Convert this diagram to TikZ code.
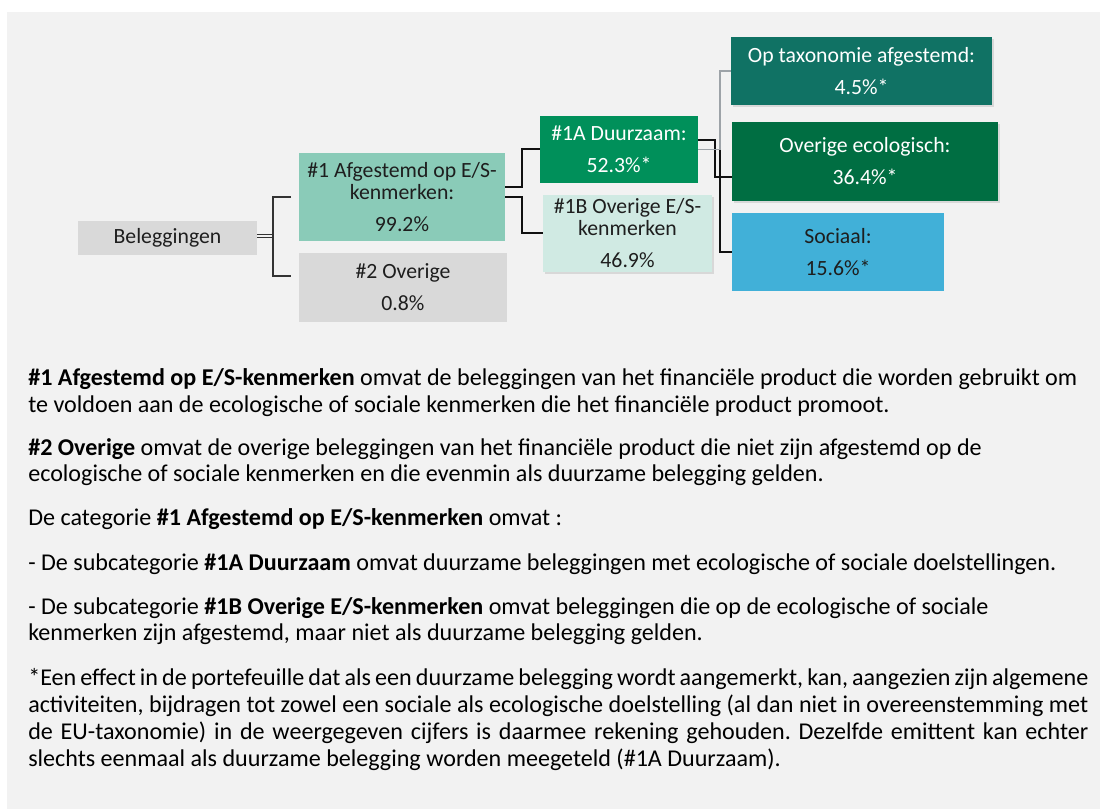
\documentclass[tikz,border=0pt]{standalone}
\usepackage{fontspec}
\setmainfont{Carlito}
\usetikzlibrary{shadows}
\definecolor{bg}{HTML}{F2F2F2}
\definecolor{cgray}{HTML}{D9D9D9}
\definecolor{cone}{HTML}{8ACBB8}
\definecolor{conea}{HTML}{00905A}
\definecolor{coneb}{HTML}{D0EAE3}
\definecolor{ctax}{HTML}{107264}
\definecolor{ceco}{HTML}{006E42}
\definecolor{csoc}{HTML}{41B0D8}
\definecolor{ctext}{HTML}{1E1E1E}
\definecolor{cline}{HTML}{111111}
\definecolor{cgline}{HTML}{9DA3A8}
\newlength\btsize
\newsavebox\measbox
\hfuzz=20pt
\hbadness=10000
\frenchspacing
\tikzset{
  box/.style={rectangle, inner sep=0pt, align=center, text=ctext,
    font=\fontsize{16.3pt}{16.5pt}\selectfont},
  wbox/.style={box, text=white},
  shad/.style={drop shadow={opacity=0.22, shadow xshift=1.6pt, shadow yshift=-1.6pt}},
  conn/.style={draw=cline, line width=1.5pt},
  thinconn/.style={draw=black!80, line width=1.1pt},
  dbl/.style={draw=black!80, line width=0.9pt, double=bg, double distance=1.5pt},
  gconn/.style={draw=cgline, line width=1.1pt},
  btxt/.style={anchor=base west, inner sep=0pt, text=black, font=\fontsize{\btsize}{\btsize}\selectfont}
}
\begin{document}
\frenchspacing
\sbox\measbox{\fontsize{10pt}{12pt}\selectfont\textbf{\#1 Afgestemd op E/S-kenmerken} omvat de beleggingen van het financiële product die worden gebruikt om}%
\ifdim\wd\measbox>10pt
  \setlength\btsize{\dimexpr 786.75pt*655360/\number\wd\measbox\relax}%
\else
  \setlength\btsize{14.5pt}%
\fi
\begin{tikzpicture}[x=0.75pt,y=-0.75pt]
\useasboundingbox (0,0) rectangle (1100,809);
\fill[white] (0,0) rectangle (1100,809);
\fill[bg] (7,12) rectangle (1100,809);

% boxes
\node[box, fill=cgray, minimum width=134.25pt, minimum height=25.5pt] (bel) at (167.5,238) {Beleggingen};
\node[box, fill=cone, minimum width=154.5pt, minimum height=66pt] (g1) at (402,197) {\#1 Afgestemd op E/S-\\kenmerken:\\[7.5pt]99.2\%};
\node[box, fill=cgray, minimum width=156pt, minimum height=51.75pt] (g2) at (403,287.5) {\#2 Overige\\[7.5pt]0.8\%};
\node[wbox, fill=conea, minimum width=118.5pt, minimum height=50.25pt] (g1a) at (619,149.5) {\#1A Duurzaam:\\[7.5pt]52.3\%*};
\node[box, fill=coneb, shad, minimum width=126.75pt, minimum height=57.75pt] (g1b) at (627.5,233.5) {\#1B Overige E/S-\\kenmerken\\[7.5pt]46.9\%};
\node[wbox, fill=ctax, shad, minimum width=195.75pt, minimum height=51pt] (tax) at (861.5,71) {Op taxonomie afgestemd:\\[7.5pt]4.5\%*};
\node[wbox, fill=ceco, shad, minimum width=199.5pt, minimum height=59.25pt] (eco) at (865,161.5) {Overige ecologisch:\\[7.5pt]36.4\%*};
\node[box, fill=csoc, minimum width=159pt, minimum height=58.5pt] (soc) at (838,252) {Sociaal:\\[7.5pt]15.6\%*};

% connectors: Beleggingen
\coordinate (t) at (273,236);
\coordinate (t1) at (273,197);
\coordinate (t2) at (273,276);
\coordinate (e1) at (291,197);
\coordinate (e2) at (291,276);
\draw[dbl] (bel.east |- t) -- (t);
\draw[thinconn] (e1) -- (t1) -- (t2) -- (e2);

% #1 -> #1A / #1B
\coordinate (u1) at (522,187);
\coordinate (u2) at (522,197);
\draw[conn] (g1.east |- u1) -- (u1) |- (g1a.west);
\draw[conn] (g1.east) -- (u2) |- (g1b.west);

% #1A -> right
\coordinate (v1) at (715,140);
\coordinate (v2) at (715,177);
\coordinate (j) at (720,149.5);
\draw[conn] (g1a.east |- v1) -- (v1) -- (v2) -- (v2 -| eco.west);
\draw[conn] (j) |- (soc.west);
\draw[gconn] (g1a.east) -- (j) |- (tax.west);

% text
\node[btxt] (b1) at (28,386) {\textbf{\#1 Afgestemd op E/S-kenmerken} omvat de beleggingen van het financiële product die worden gebruikt om};
\node[btxt] (b2) at (28,412) {te voldoen aan de ecologische of sociale kenmerken die het financiële product promoot.};
\node[btxt] (b3) at (28,455) {\textbf{\#2 Overige} omvat de overige beleggingen van het financiële product die niet zijn afgestemd op de};
\node[btxt] (b4) at (28,481) {ecologische of sociale kenmerken en die evenmin als duurzame belegging gelden.};
\node[btxt] (b5) at (28,525) {De categorie \textbf{\#1 Afgestemd op E/S-kenmerken} omvat :};
\node[btxt] (b6) at (28,570) {- De subcategorie \textbf{\#1A Duurzaam} omvat duurzame beleggingen met ecologische of sociale doelstellingen.};
\node[btxt] (b7) at (28,614) {- De subcategorie \textbf{\#1B Overige E/S-kenmerken} omvat beleggingen die op de ecologische of sociale};
\node[btxt] (b8) at (28,640) {kenmerken zijn afgestemd, maar niet als duurzame belegging gelden.};
\node[btxt] (b9) at (28,685) {\makebox[795pt][s]{*Een effect in de portefeuille dat als een duurzame belegging wordt aangemerkt, kan, aangezien zijn algemene}};
\node[btxt] (b10) at (28,712) {\makebox[795pt][s]{activiteiten, bijdragen tot zowel een sociale als ecologische doelstelling (al dan niet in overeenstemming met}};
\node[btxt] (b11) at (28,739) {\makebox[795pt][s]{de EU-taxonomie) in de weergegeven cijfers is daarmee rekening gehouden. Dezelfde emittent kan echter}};
\node[btxt] (b12) at (28,766) {slechts eenmaal als duurzame belegging worden meegeteld (\#1A Duurzaam).};
\end{tikzpicture}
\end{document}
